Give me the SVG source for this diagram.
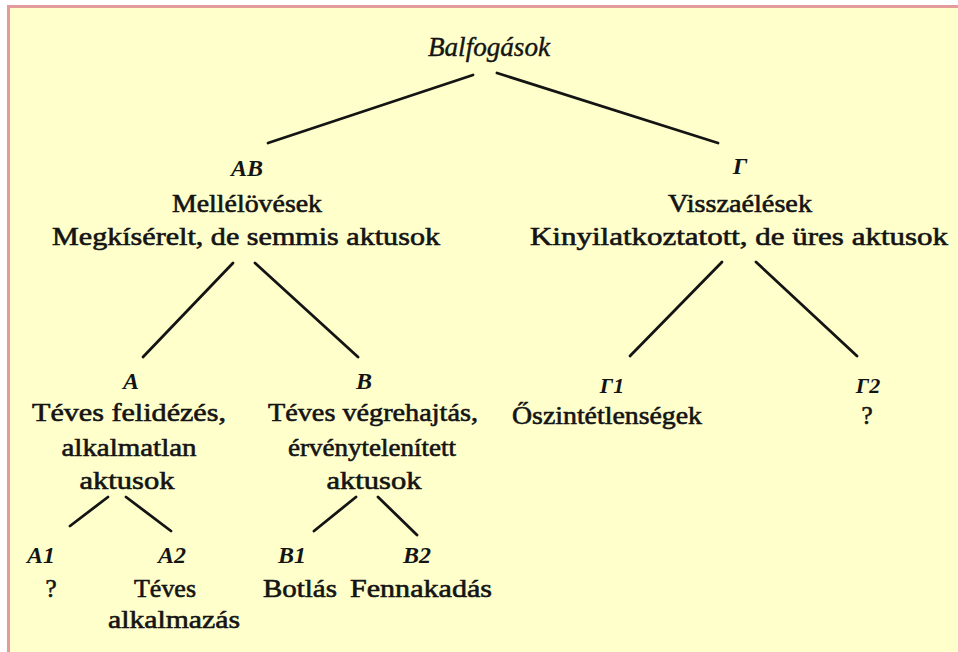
<svg xmlns="http://www.w3.org/2000/svg" width="958" height="652" viewBox="0 0 958 652">
<style>
  .t { font-family: "Liberation Serif", "Times New Roman", serif; font-size: 25px; fill: #141414; stroke: #141414; stroke-width: 0.6; text-anchor: middle; }
  .i { font-family: "Liberation Serif", "Times New Roman", serif; font-size: 24px; fill: #141414; text-anchor: middle; font-style: italic; font-weight: bold; }
  .c { stroke: #141414; stroke-width: 2.8; stroke-linecap: round; fill: none; }
</style>
<rect x="0" y="0" width="958" height="652" fill="#ffffff"/>
<rect x="7" y="5" width="951" height="647" fill="#e39b9b"/>
<rect x="10" y="8" width="948" height="644" fill="#ffffcc"/>

<g id="connectors">
  <line class="c" x1="473" y1="75" x2="268" y2="143"/>
  <line class="c" x1="497" y1="73" x2="718" y2="143"/>
  <line class="c" x1="233" y1="263" x2="143" y2="357"/>
  <line class="c" x1="255" y1="263" x2="358" y2="357"/>
  <line class="c" x1="722" y1="262" x2="630" y2="356"/>
  <line class="c" x1="756" y1="262" x2="857" y2="356"/>
  <line class="c" x1="108" y1="497" x2="70" y2="526"/>
  <line class="c" x1="126" y1="497" x2="171" y2="531"/>
  <line class="c" x1="356" y1="497" x2="314" y2="531"/>
  <line class="c" x1="378" y1="497" x2="417" y2="535"/>
</g>

<g id="root">
  <text class="i" x="489" y="56" textLength="122" lengthAdjust="spacingAndGlyphs" style="font-size:27px;font-weight:normal;stroke:#141414;stroke-width:0.4">Balfogások</text>
</g>

<g id="AB">
  <text class="i" x="247" y="176">AB</text>
  <text class="t" x="247" y="212" textLength="150" lengthAdjust="spacingAndGlyphs">Mellélövések</text>
  <text class="t" x="246" y="245" textLength="388" lengthAdjust="spacingAndGlyphs">Megkísérelt, de semmis aktusok</text>
</g>

<g id="Gamma">
  <text class="i" x="740" y="174">Γ</text>
  <text class="t" x="740" y="212" textLength="144" lengthAdjust="spacingAndGlyphs">Visszaélések</text>
  <text class="t" x="739" y="245" textLength="418" lengthAdjust="spacingAndGlyphs">Kinyilatkoztatott, de üres aktusok</text>
</g>

<g id="A">
  <text class="i" x="131" y="389">A</text>
  <text class="t" x="129" y="421" textLength="194" lengthAdjust="spacingAndGlyphs">Téves felidézés,</text>
  <text class="t" x="129" y="456" textLength="135" lengthAdjust="spacingAndGlyphs">alkalmatlan</text>
  <text class="t" x="127" y="489" textLength="95" lengthAdjust="spacingAndGlyphs">aktusok</text>
</g>

<g id="B">
  <text class="i" x="364" y="389">B</text>
  <text class="t" x="373" y="421" textLength="210" lengthAdjust="spacingAndGlyphs">Téves végrehajtás,</text>
  <text class="t" x="372" y="456" textLength="168" lengthAdjust="spacingAndGlyphs">érvénytelenített</text>
  <text class="t" x="374" y="489" textLength="95" lengthAdjust="spacingAndGlyphs">aktusok</text>
</g>

<g id="Gamma1">
  <text class="i" x="612" y="393" style="font-size:22px">Γ1</text>
  <text class="t" x="607" y="424" textLength="190" lengthAdjust="spacingAndGlyphs">Őszintétlenségek</text>
</g>

<g id="Gamma2">
  <text class="i" x="868" y="393" style="font-size:22px">Γ2</text>
  <text class="t" x="867" y="424">?</text>
</g>

<g id="A1">
  <text class="i" x="41" y="563">A1</text>
  <text class="t" x="51" y="597">?</text>
</g>

<g id="A2">
  <text class="i" x="172" y="563">A2</text>
  <text class="t" x="165" y="597" textLength="62" lengthAdjust="spacingAndGlyphs">Téves</text>
  <text class="t" x="174" y="628" textLength="132" lengthAdjust="spacingAndGlyphs">alkalmazás</text>
</g>

<g id="B1">
  <text class="i" x="292" y="563">B1</text>
  <text class="t" x="300" y="597" textLength="74" lengthAdjust="spacingAndGlyphs">Botlás</text>
</g>

<g id="B2">
  <text class="i" x="417" y="563">B2</text>
  <text class="t" x="421" y="597" textLength="142" lengthAdjust="spacingAndGlyphs">Fennakadás</text>
</g>
</svg>
